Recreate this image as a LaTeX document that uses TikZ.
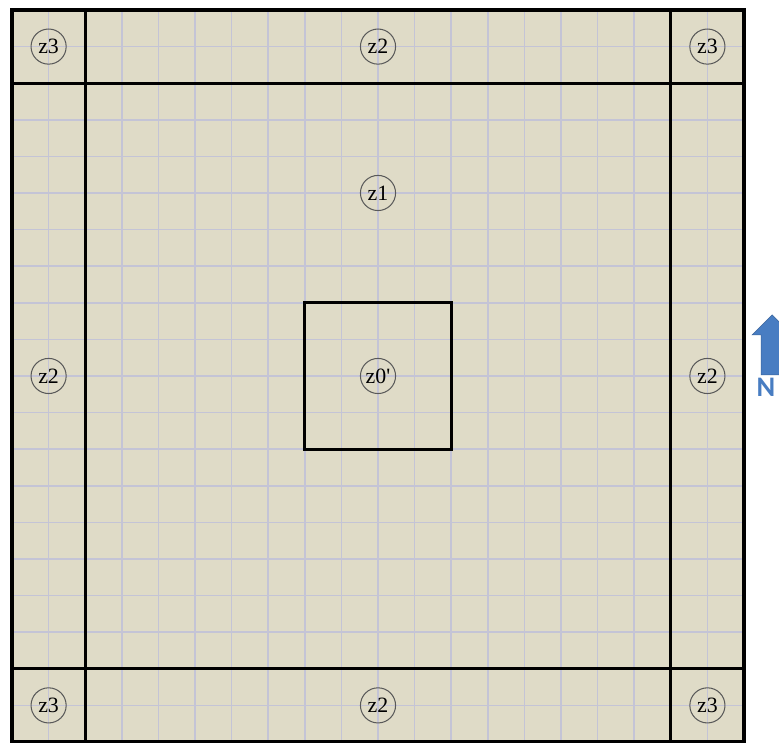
\documentclass[tikz,border=0pt]{standalone}
\usepackage{fontspec}
\setmainfont{Liberation Serif}
\newfontfamily\zonabetu[Ligatures=TeXOff]{Liberation Serif}
\newfontfamily\eszakbetu{Carlito}
\usetikzlibrary{positioning}
\definecolor{homok}{RGB}{223,219,199}
\definecolor{racsszin}{RGB}{196,196,214}
\definecolor{nyilkek}{RGB}{72,125,194}
\tikzset{
  racs/.style={draw=racsszin,line width=1.3pt},
  keret/.style={draw=black,line width=2.6pt},
  belso/.style={draw=black,line width=2.3pt},
  zona/.style={circle,draw=black!65,line width=0.8pt,minimum size=0.96cm,inner sep=0pt,
               font=\zonabetu\fontsize{17}{20}\selectfont},
  eszak/.style={fill=nyilkek,draw=nyilkek!80!black,line width=0.4pt},
}
\begin{document}
\begin{tikzpicture}
  \useasboundingbox (-0.328,-0.027) rectangle (20.956,20.273);
  \clip (-0.328,-0.027) rectangle (20.956,20.273);
  % alap es racs
  \fill[homok] (0,0) rectangle (20,20);
  \draw[racs] (0,0) grid (20,20);
  % savok
  \draw[belso] (2,0) -- (2,20) (18,0) -- (18,20) (0,2) -- (20,2) (0,18) -- (20,18);
  \draw[belso] (8,8) rectangle (12,12);
  \draw[keret] (0,0) rectangle (20,20);
  % zonak
  \node[zona] (fbal) at (1,19) {z3};
  \node[zona] (fkoz) at (10,19) {z2};
  \node[zona] (fjobb) at (19,19) {z3};
  \node[zona] (kbal) at (1,10) {z2};
  \node[zona] (kozep) at (10,10) {z0'};
  \node[zona] (kjobb) at (19,10) {z2};
  \node[zona] (z1) at (10,15) {z1};
  \node[zona] (abal) at (1,1) {z3};
  \node[zona] (akoz) at (10,1) {z2};
  \node[zona] (ajobb) at (19,1) {z3};
  % eszak
  \fill[eszak] (20.47,10.03) -- (20.47,11.12) -- (20.22,11.12) -- (20.77,11.67)
    -- (21.32,11.12) -- (21.07,11.12) -- (21.07,10.03) -- cycle;
  \node[anchor=base west,inner sep=0pt,text=nyilkek,font=\eszakbetu\bfseries\fontsize{22}{24}\selectfont]
    (N) at (20.34,9.43) {N};
\end{tikzpicture}
\end{document}
